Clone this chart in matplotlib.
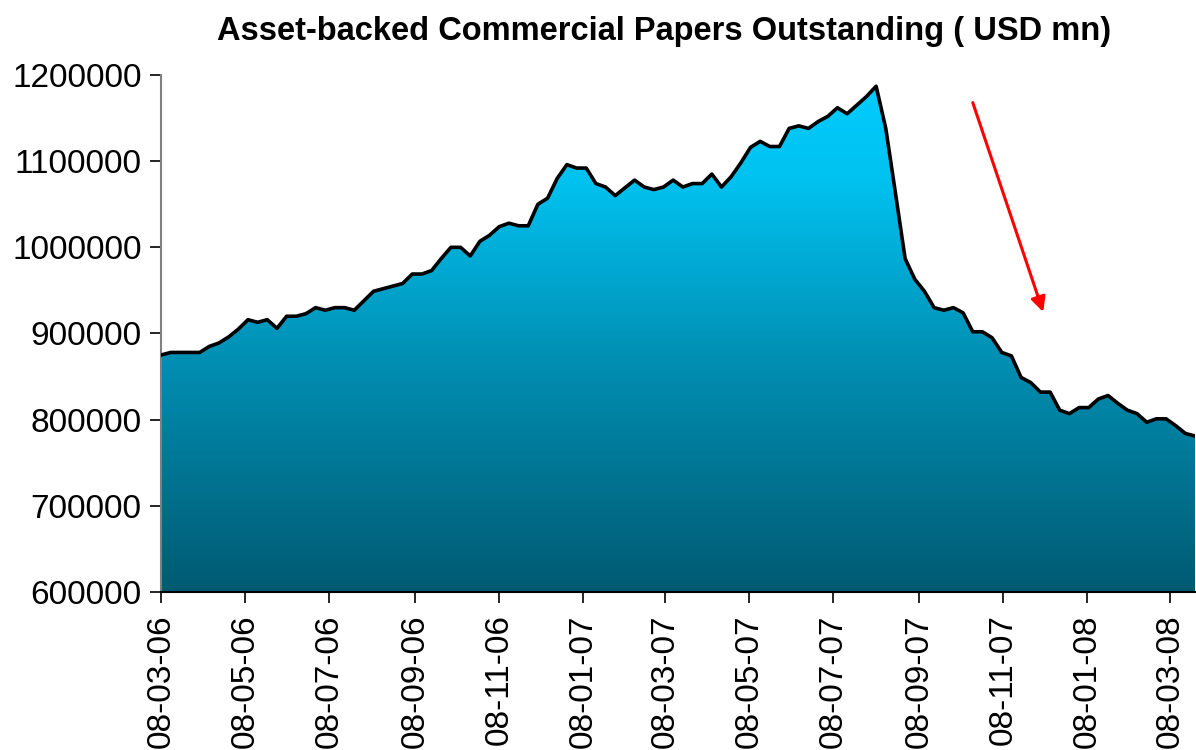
import numpy as np
import pandas as pd
import matplotlib
matplotlib.use("Agg")
import matplotlib.pyplot as plt
import matplotlib.dates as mdates
from matplotlib.colors import LinearSegmentedColormap
from matplotlib.patches import Polygon

plt.rcParams['font.family'] = ['Liberation Sans', 'DejaVu Sans']

# weekly ABCP outstanding (USD mn), starting 8 Mar 2006
start_date = "2006-03-08"
abcp_values = [
    875000, 878000, 878000, 878000, 878000, 885000, 889000, 896000, 905000, 916000,
    913000, 916000, 906000, 920000, 920000, 923000, 930000, 927000, 930000, 930000,
    927000, 938000, 949000, 952000, 955000, 958000, 969000, 969000, 973000, 987000,
    1000000, 1000000, 990000, 1007000, 1014000, 1024000, 1028000, 1025000, 1025000, 1050000,
    1057000, 1080000, 1096000, 1092000, 1092000, 1074000, 1070000, 1060000, 1069000, 1078000,
    1070000, 1067000, 1070000, 1078000, 1070000, 1074000, 1074000, 1085000, 1070000, 1082000,
    1098000, 1116000, 1123000, 1117000, 1117000, 1138000, 1141000, 1138000, 1146000, 1152000,
    1162000, 1155000, 1165000, 1175000, 1187000, 1138000, 1063000, 987000, 963000, 949000,
    930000, 927000, 930000, 924000, 902000, 902000, 895000, 878000, 874000, 849000,
    843000, 832000, 832000, 811000, 807000, 814000, 814000, 824000, 828000, 819000,
    811000, 807000, 797000, 801000, 801000, 793000, 784000, 781000,
]
dates = pd.date_range(start_date, periods=len(abcp_values), freq="7D")
tick_dates = pd.date_range("2006-03-01", "2008-03-01", freq="2MS") + pd.Timedelta(days=7)

y_min, y_max = 600000, 1200000
y_ticks = list(range(600000, 1200001, 100000))

# red trend arrow (start -> end)
arrow_start = ("2007-10-17", 1168000)
arrow_end = ("2007-12-07", 925000)

fig = plt.figure(figsize=(11.96, 7.5), dpi=100)
ax = fig.add_axes([0.1346, 0.2107, 0.8646, 0.6893])

xnum = mdates.date2num(dates)
x0, x1 = xnum[0], xnum[-1]

# vertical gradient, clipped to the area under the series
cmap = LinearSegmentedColormap.from_list(
    "abcp", [(0.0, "#005a72"), (0.45, "#008fb3"), (0.8, "#00c2f0"), (1.0, "#00ccff")])
grad = np.linspace(0, 1, 256).reshape(-1, 1)
im = ax.imshow(grad, extent=[x0, x1, y_min, y_max], aspect="auto", cmap=cmap,
               origin="lower", zorder=1, interpolation="bilinear")
verts = np.vstack([[x0, y_min], np.column_stack([xnum, abcp_values]), [x1, y_min]])
clip = Polygon(verts, closed=True, facecolor="none", edgecolor="none")
ax.add_patch(clip)
im.set_clip_path(clip)

ax.plot(dates, abcp_values, color="black", lw=2.6, zorder=3)

ax.annotate("", xy=(pd.Timestamp(arrow_end[0]), arrow_end[1]),
            xytext=(pd.Timestamp(arrow_start[0]), arrow_start[1]),
            arrowprops=dict(arrowstyle="-|>", color="#ff0000", lw=2.2,
                            mutation_scale=22, shrinkA=0, shrinkB=0), zorder=4)

ax.set_xlim(x0, x1)
ax.set_ylim(y_min, y_max)
ax.set_yticks(y_ticks)
ax.set_yticklabels([str(v) for v in y_ticks], fontsize=24)
ax.set_xticks(tick_dates)
ax.set_xticklabels([d.strftime("%d-%m-%y") for d in tick_dates], rotation=90, fontsize=24)

for s in ["top", "right"]:
    ax.spines[s].set_visible(False)
ax.spines["left"].set_color("#808080")
ax.spines["left"].set_linewidth(1.5)
ax.spines["bottom"].set_color("black")
ax.spines["bottom"].set_linewidth(1.5)
ax.tick_params(axis="both", direction="out", length=8, width=1.2, color="black")
ax.tick_params(axis="y", pad=6)
ax.tick_params(axis="x", pad=8)

fig.text(0.555, 0.958, "Asset-backed Commercial Papers Outstanding ( USD mn)",
         ha="center", va="center", fontsize=23.5, fontweight="bold")

fig.savefig("out.png", dpi=100)
